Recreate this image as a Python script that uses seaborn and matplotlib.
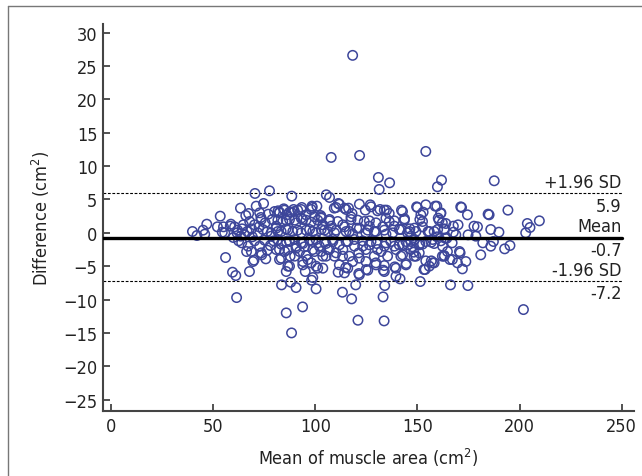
import matplotlib
matplotlib.use('Agg')
import matplotlib.pyplot as plt
import pandas as pd
import seaborn as sns
from matplotlib.lines import Line2D

# Bland-Altman agreement statistics
MEAN_DIFF = -0.7
UPPER_LOA = 5.9
LOWER_LOA = -7.2

X_TICKS = [0, 50, 100, 150, 200, 250]
Y_TICKS = [-25, -20, -15, -10, -5, 0, 5, 10, 15, 20, 25, 30]

# (mean of muscle area, difference), grouped by region
outliers = [
    (118.3, 26.6), (107.8, 11.3), (121.7, 11.6), (154.1, 12.2), (130.9, 8.3),
    (136.4, 7.5), (131.3, 6.5), (161.8, 7.9), (159.8, 6.9), (187.6, 7.8),
    (85.8, -12.0), (88.4, -15.0), (93.8, -11.1), (120.9, -13.1), (133.7, -13.2),
    (133.2, -9.6), (117.8, -9.9), (113.3, -8.9), (61.5, -9.7), (201.9, -11.5),
    (90.6, -8.2), (100.4, -8.4), (83.5, -7.8), (88.0, -7.4), (98.2, -7.1),
    (98.8, -6.7), (119.8, -7.8), (134.0, -7.9), (151.4, -7.3), (166.2, -7.8),
    (174.7, -7.9), (59.5, -5.9), (61.1, -6.4), (67.8, -5.8), (56.1, -3.7),
    (70.5, 5.9), (77.6, 6.3), (88.5, 5.5), (105.4, 5.7), (107.0, 5.3),
]

left_cluster = [
    (39.9, 0.2), (42.1, -0.4), (45.1, 0.4), (46.9, 1.3), (45.9, -0.2),
    (53.5, 2.5), (52.1, 0.9), (54.5, 0.1), (55.1, 0.9), (58.7, 1.3),
    (58.4, 1.0), (55.7, 0.0), (59.9, -0.7), (61.7, 0.0), (63.5, -0.5),
    (62.0, 0.4), (60.5, 0.9), (63.4, 3.7), (64.0, -1.5), (62.5, -1.2),
    (64.2, 0.6), (65.5, -0.3), (66.0, 2.6), (66.4, -2.8), (67.4, 2.9),
    (67.9, 1.7), (66.7, 0.2), (67.1, -2.0), (68.7, -2.8), (69.5, -4.3),
    (68.8, 0.6), (69.2, -0.6), (71.1, 4.0), (70.3, 1.2), (71.9, 0.0),
    (70.3, -1.2), (72.8, 3.0), (73.6, 2.0), (74.4, 0.5), (72.8, -2.0),
    (73.6, -3.0), (74.7, 4.4), (73.4, 2.3), (73.8, -3.3), (75.8, -3.9),
    (72.5, 0.9), (75.5, 1.5), (76.5, 0.2), (75.2, -1.1), (77.0, 2.8),
    (76.5, -2.6), (78.0, -1.9), (78.4, -0.5), (70.0, -4.1), (64.8, 1.2),
]

centre_cluster = [
    (80.1, 3.2), (82.5, 3.0), (84.9, 3.4), (86.1, 2.7), (89.8, 3.2),
    (93.1, 3.5), (95.5, 2.7), (98.5, 3.8), (100.8, 4.0), (102.9, 2.4),
    (107.0, 2.0), (110.2, 3.8), (111.8, 4.3), (115.1, 3.5), (118.0, 2.9),
    (121.6, 4.3), (124.5, 3.4), (127.3, 3.9), (130.5, 3.3), (133.8, 3.4),
    (136.2, 2.9), (142.7, 3.2), (150.0, 3.8), (154.1, 4.2), (158.7, 4.0),
    (161.4, 2.9), (78.9, 2.0), (80.9, 1.0), (84.1, 1.7), (87.4, 2.0),
    (90.6, 1.5), (93.9, 2.0), (98.0, 1.6), (101.2, 1.9), (103.7, 1.2),
    (107.8, 1.0), (111.0, 1.7), (113.5, 1.2), (117.5, 2.0), (120.3, 0.7),
    (124.0, 1.7), (126.5, 1.0), (129.7, 1.5), (133.0, 0.9), (136.2, 1.7),
    (138.7, 1.0), (141.1, 0.5), (145.2, 0.0), (149.3, 0.2), (152.5, 0.9),
    (155.8, 0.2), (159.9, 0.5), (163.1, 0.6), (78.4, 0.0), (81.7, 0.2),
    (85.7, 0.6), (89.0, 0.2), (93.1, 0.0), (97.2, 0.5), (100.4, 0.0),
    (104.5, 0.4), (109.4, 0.0), (115.1, 0.2), (118.3, -0.2), (124.8, 0.0),
    (128.9, 0.2), (134.6, -0.2), (137.9, 0.0), (79.6, -1.2), (83.3, -1.7),
    (87.4, -1.3), (90.6, -2.0), (93.9, -1.6), (98.8, -1.3), (102.0, -2.0),
    (105.3, -1.6), (108.6, -1.0), (111.8, -1.8), (115.9, -1.3), (119.2, -2.0),
    (123.2, -1.2), (126.5, -1.8), (130.0, -1.6), (133.8, -2.0), (137.0, -1.3),
    (141.1, -1.8), (144.4, -1.3), (148.5, -1.0), (152.5, -1.7), (157.4, -1.0),
    (162.3, -2.0), (80.9, -2.5), (85.0, -2.8), (87.7, -3.5), (92.3, -2.8),
    (95.5, -3.4), (99.6, -2.8), (103.7, -3.5), (106.1, -2.5), (110.2, -3.0),
    (113.5, -2.5), (116.7, -3.5), (121.3, -3.0), (124.8, -2.5), (128.9, -3.5),
    (132.2, -2.8), (135.4, -3.5), (139.5, -2.5), (142.7, -3.3), (146.8, -2.5),
    (150.9, -3.0), (154.1, -4.2), (157.4, -4.5), (163.1, -3.4), (82.5, -4.0),
    (86.6, -5.0), (93.9, -4.8), (98.0, -4.5), (101.2, -5.3), (111.8, -4.8),
    (114.3, -6.0), (115.9, -5.3), (121.6, -6.3), (125.7, -5.6), (129.7, -4.5),
    (133.8, -4.9), (139.5, -6.5), (141.5, -6.9),
]

centre_extra = [
    (80.9, 0.7), (81.7, 1.9), (82.5, 3.1), (88.2, 3.1), (91.4, 3.4),
    (98.0, 3.5), (85.8, 1.9), (89.9, 1.9), (93.1, 2.2), (95.5, 1.9),
    (99.6, 2.4), (102.9, 2.2), (106.9, 1.8), (110.2, 0.4), (83.3, 0.2),
    (86.6, 0.4), (91.4, 0.4), (95.5, 0.4), (98.8, 0.2), (102.9, 0.5),
    (106.1, 0.2), (81.7, -1.0), (85.8, -1.3), (89.9, -1.0), (93.1, -1.5),
    (97.2, -1.1), (100.4, -1.0), (104.5, -1.4), (108.6, -1.3), (82.5, -2.5),
    (86.6, -2.5), (90.6, -2.3), (94.7, -2.1), (98.8, -2.5), (102.9, -2.8),
    (106.9, -2.5), (83.3, -3.8), (87.4, -5.0), (89.9, -3.5), (93.9, -4.3),
    (96.4, -4.0), (100.4, -5.0), (103.7, -5.3), (95.1, -5.8), (85.8, -5.8),
    (105.3, -3.5), (109.4, -3.5), (114.3, 3.7), (117.5, 2.4), (120.8, 1.9),
    (126.5, 1.8), (134.6, 2.2), (138.7, 1.8), (143.6, 1.9), (151.7, 2.7),
    (152.5, 1.7), (114.3, 0.9), (116.7, 0.2), (121.6, 0.7), (125.7, 0.4),
    (129.7, 0.2), (133.8, 0.4), (142.0, 0.5), (146.0, 0.2), (148.5, 0.7),
    (115.1, -1.3), (119.2, -1.0), (123.2, -2.0), (127.3, -1.3), (130.5, -2.5),
    (134.6, -1.5), (138.7, -2.0), (142.7, -1.8), (146.8, -1.3), (150.9, -1.8),
    (154.1, -1.3), (113.4, -3.5), (118.3, -4.3), (124.8, -4.3), (129.7, -4.8),
    (133.8, -5.8), (139.5, -5.3), (144.4, -4.8), (149.3, -3.5), (153.8, -5.5),
    (155.8, -5.0), (121.6, -3.8), (141.9, -3.5),
]

right_cluster = [
    (159.5, 4.0), (161.5, 3.0), (171.6, 3.8), (174.5, 2.7), (185.1, 2.7),
    (194.3, 3.4), (160.6, 1.9), (163.9, 1.4), (167.6, 1.0), (169.9, 1.2),
    (177.7, 1.0), (179.4, 0.9), (185.9, 0.5), (189.9, 0.1), (203.8, 1.4),
    (203.0, 0.0), (163.1, 0.5), (158.2, 0.2), (168.8, -0.3), (174.8, -0.3),
    (178.6, -0.5), (164.4, -0.8), (161.5, -1.2), (182.0, -1.5), (187.2, -1.3),
    (185.9, -2.0), (192.7, -2.4), (195.3, -1.9), (167.0, -1.5), (158.2, -1.6),
    (164.7, -2.8), (170.9, -3.0), (163.1, -3.5), (167.1, -4.0), (173.7, -4.3),
    (181.0, -3.3), (169.6, -4.5), (172.0, -5.4), (158.2, -4.5), (209.7, 1.8),
    (205.1, 0.8), (171.2, 3.9), (184.6, 2.8), (165.9, -4.0), (170.6, -2.8),
    (162.2, -3.5), (156.8, -4.2),
]

scattered_extra = [
    (149.6, 3.9), (152.8, 3.1), (151.2, 2.0), (160.2, 2.2), (162.2, 1.5),
    (155.2, 0.2), (159.6, -0.6), (156.8, -1.4), (163.6, -0.8), (167.6, 0.1),
    (146.9, -0.5), (146.3, 0.6), (151.2, -1.6), (147.6, -2.1), (148.2, -2.9),
    (145.2, -1.8), (144.5, -4.6), (153.2, -5.5), (148.4, -3.5), (138.9, -5.1),
    (133.3, -5.6), (124.9, -5.5), (121.3, -6.1), (114.9, -5.2), (111.2, -5.9),
    (143.7, 2.1), (142.2, 3.4), (134.9, 3.4), (131.7, 3.5), (126.9, 4.2),
    (116.3, 3.7), (111.3, 4.4), (109.3, 3.7), (102.6, 2.6), (98.4, 4.0),
    (93.4, 3.8), (89.4, 3.5), (87.4, 3.1), (84.6, 3.6), (81.8, 3.3),
]

POINT_COLOR = '#3d469a'
AXIS_COLOR = '#444444'
TEXT_COLOR = '#222222'

groups = [outliers, left_cluster, centre_cluster, centre_extra, right_cluster, scattered_extra]
df = pd.concat([pd.DataFrame(g, columns=['mean_area', 'difference']) for g in groups],
               ignore_index=True)

sns.set_style('ticks')
plt.rcParams['font.family'] = ['DejaVu Sans']
plt.rcParams['font.stretch'] = 'condensed'
plt.rcParams['mathtext.default'] = 'regular'

fig = plt.figure(figsize=(6.42, 4.77), dpi=100)
ax = fig.add_axes([0.1604, 0.1363, 0.8271, 0.8113])

sns.scatterplot(data=df, x='mean_area', y='difference', ax=ax, marker='o', s=46,
                facecolor='none', edgecolor=POINT_COLOR, linewidth=1.1, zorder=3)

ax.set_xlim(-3.9, 256)
ax.set_ylim(-26.7, 31.3)
x_left = ax.get_xlim()[0]
x_right = X_TICKS[-1]

# limits of agreement and mean difference
ax.plot([x_left, x_right], [UPPER_LOA, UPPER_LOA], color='black', lw=0.8, ls=(0, (2.5, 1.5)), zorder=2)
ax.plot([x_left, x_right], [LOWER_LOA, LOWER_LOA], color='black', lw=0.8, ls=(0, (2.5, 1.5)), zorder=2)
ax.plot([x_left, x_right], [MEAN_DIFF, MEAN_DIFF], color='black', lw=2.4, zorder=4)

labels = [('+1.96 SD', f'{UPPER_LOA:.1f}', UPPER_LOA),
          ('Mean', f'{MEAN_DIFF:.1f}', MEAN_DIFF),
          ('-1.96 SD', f'{LOWER_LOA:.1f}', LOWER_LOA)]
for above, below, yv in labels:
    ax.annotate(above, xy=(x_right, yv), xytext=(0, 1.5), textcoords='offset points',
                ha='right', va='bottom', fontsize=13, color=TEXT_COLOR)
    ax.annotate(below, xy=(x_right, yv), xytext=(0, -2.5), textcoords='offset points',
                ha='right', va='top', fontsize=13, color=TEXT_COLOR)

ax.set_xticks(X_TICKS)
ax.set_yticks(Y_TICKS)
ax.tick_params(direction='in', length=5, width=1.3, color=AXIS_COLOR,
               labelsize=13, labelcolor=TEXT_COLOR, pad=4)
for side in ['top', 'right']:
    ax.spines[side].set_visible(False)
for side in ['left', 'bottom']:
    ax.spines[side].set_color(AXIS_COLOR)
    ax.spines[side].set_linewidth(1.5)

ax.set_xlabel('Mean of muscle area (cm$^{2}$)', fontsize=13, color=TEXT_COLOR, labelpad=8)
ax.set_ylabel('Difference (cm$^{2}$)', fontsize=13, color=TEXT_COLOR, labelpad=8)

# thin frame on the top and left edges of the figure
fx, fy = 8 / 642, 1 - 7 / 477
fig.add_artist(Line2D([fx, fx], [0, fy], transform=fig.transFigure, color='#777777', lw=1))
fig.add_artist(Line2D([fx, 1], [fy, fy], transform=fig.transFigure, color='#777777', lw=1))

fig.savefig('out.png', dpi=100)
